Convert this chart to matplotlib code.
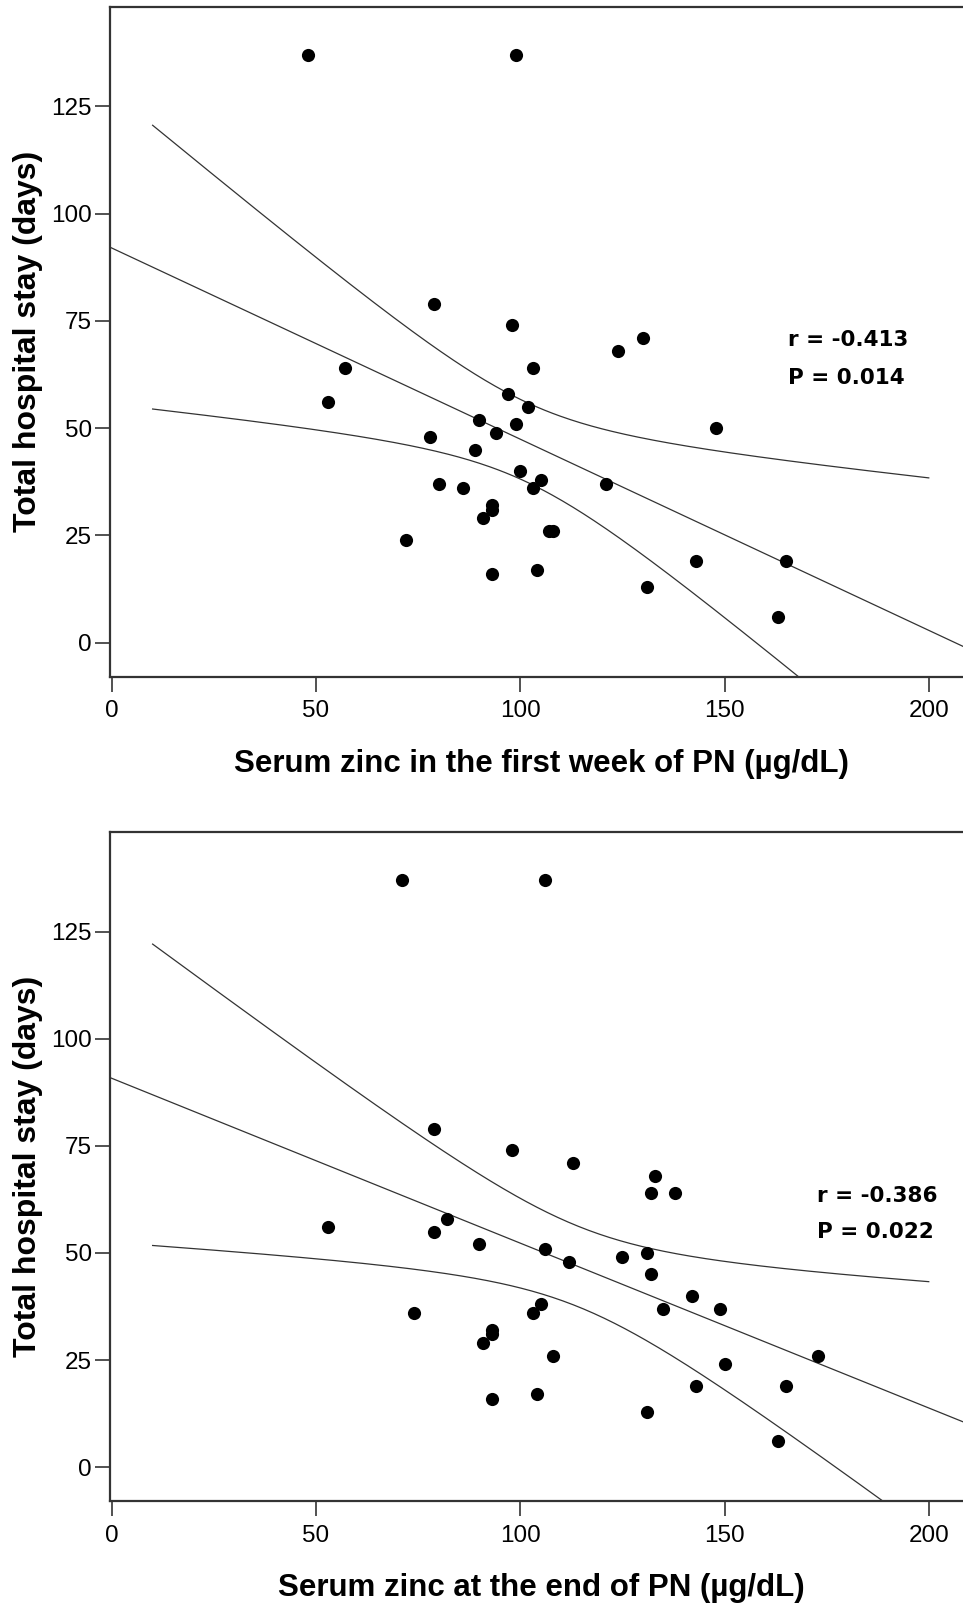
import numpy as np
import matplotlib
matplotlib.use("Agg")
from matplotlib import pyplot as plt

# panel A: serum zinc in the first week of PN vs total hospital stay
zinc_first = [48, 99, 79, 98, 130, 124, 103, 57, 97, 53, 102, 90, 99, 148, 78, 94, 89,
              100, 105, 80, 121, 86, 103, 93, 93, 91, 72, 107, 108, 143, 165, 104, 93, 131, 163]
stay_first = [137, 137, 79, 74, 71, 68, 64, 64, 58, 56, 55, 52, 51, 50, 48, 49, 45,
              40, 38, 37, 37, 36, 36, 32, 31, 29, 24, 26, 26, 19, 19, 17, 16, 13, 6]

# panel B: serum zinc at the end of PN vs total hospital stay
zinc_end = [71, 106, 79, 98, 113, 133, 132, 138, 53, 82, 79, 90, 106, 112, 125, 131, 132,
            142, 135, 149, 74, 103, 105, 93, 93, 91, 108, 173, 150, 143, 165, 104, 93, 131, 163]
stay_end = [137, 137, 79, 74, 71, 68, 64, 64, 56, 58, 55, 52, 51, 48, 49, 50, 45,
            40, 37, 37, 36, 36, 38, 32, 31, 29, 26, 26, 24, 19, 19, 17, 16, 13, 6]

x_labels = ["Serum zinc in the first week of PN (\u00b5g/dL)",
            "Serum zinc at the end of PN (\u00b5g/dL)"]
r_text = ["r = -0.413", "r = -0.386"]
p_text = ["P = 0.014", "P = 0.022"]

T_975 = 2.035  # t(0.975, df=33)
LINE_COL = "#333333"

plt.rcParams['font.family'] = ['Liberation Sans', 'DejaVu Sans']

fig = plt.figure(figsize=(9.63, 16.03), dpi=100)
positions = [[0.1142, 0.5779, 0.9058, 0.4178],
             [0.1142, 0.0636, 0.9058, 0.4172]]
# (x, y of r line, y of P line) in data units
text_pos = [(165.6, 70.5, 61.8), (172.7, 63.4, 54.8)]


def fit_band(x, y, xs):
    x = np.asarray(x, float)
    y = np.asarray(y, float)
    n = len(x)
    b, a = np.polyfit(x, y, 1)
    resid = y - (a + b * x)
    s = np.sqrt(np.sum(resid ** 2) / (n - 2))
    sxx = np.sum((x - x.mean()) ** 2)
    yhat = a + b * xs
    half = T_975 * s * np.sqrt(1.0 / n + (xs - x.mean()) ** 2 / sxx)
    return a, b, yhat - half, yhat + half


for i, (xd, yd) in enumerate([(zinc_first, stay_first), (zinc_end, stay_end)]):
    ax = fig.add_axes(positions[i])
    ax.set_xlim(-0.44, 213.1)
    ax.set_ylim(-7.9, 148.2)

    xs = np.linspace(10, 200, 300)
    a, b, lo, hi = fit_band(xd, yd, xs)
    xl = np.linspace(-0.44, 213.1, 10)
    ax.plot(xl, a + b * xl, color=LINE_COL, lw=0.9, zorder=2)
    ax.plot(xs, lo, color=LINE_COL, lw=0.9, zorder=2)
    ax.plot(xs, hi, color=LINE_COL, lw=0.9, zorder=2)

    ax.scatter(xd, yd, s=90, color="black", zorder=3, linewidths=0)

    ax.set_xticks([0, 50, 100, 150, 200])
    ax.set_yticks([0, 25, 50, 75, 100, 125])
    ax.tick_params(axis='both', length=11, width=1.2, color="#333333",
                   labelsize=17.5)
    ax.tick_params(axis='x', pad=6)
    ax.tick_params(axis='y', pad=2)

    for side in ['left', 'top', 'bottom']:
        ax.spines[side].set_linewidth(1.6)
        ax.spines[side].set_color("#333333")
    ax.spines['right'].set_visible(False)

    ax.set_xlabel(x_labels[i], fontsize=22.5, fontweight='bold')
    ax.xaxis.set_label_coords(0.495, -0.108)
    ax.set_ylabel("Total hospital stay (days)", fontsize=23, fontweight='bold')
    ax.yaxis.set_label_coords(-0.077, 0.5)

    tx, ry, py = text_pos[i]
    ax.text(tx, ry, r_text[i], fontsize=15.5, fontweight='bold',
            family='DejaVu Sans', va='center', ha='left')
    ax.text(tx, py, p_text[i], fontsize=15.5, fontweight='bold',
            family='DejaVu Sans', va='center', ha='left')

fig.savefig("out.png", dpi=100)
